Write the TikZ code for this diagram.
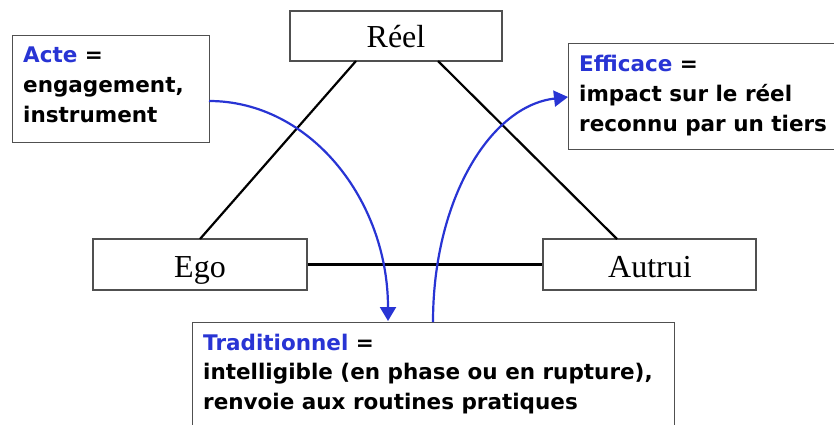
\documentclass[tikz,border=0pt]{standalone}
\usepackage{fontspec}
\setmainfont{Liberation Serif}
\newfontfamily\labelfont{DejaVu Sans}
\usetikzlibrary{arrows.meta}
\definecolor{termblue}{RGB}{40,52,212}
\definecolor{boxgray}{RGB}{80,80,80}
\tikzset{
  x=1pt, y=-1pt,
  pole/.style={draw=boxgray, line width=1.3pt, fill=white, inner sep=0pt},
  polename/.style={anchor=base, inner sep=0pt, font=\fontsize{32}{36}\selectfont},
  notebox/.style={draw=boxgray, line width=1.3pt, fill=white, inner sep=0pt},
  % anchored at the baseline of the last line
  notetext/.style={anchor=base west, align=left, inner sep=0pt,
    font=\labelfont\bfseries\fontsize{21.5}{29.5}\selectfont},
  link/.style={line width=2.2pt, black},
  flow/.style={line width=2.2pt, termblue, -{Triangle[length=14pt,width=16pt]}},
}
\newcommand{\term}[1]{\textcolor{termblue}{#1}}
\begin{document}
\begin{tikzpicture}
\useasboundingbox (0,0) rectangle (834,425);
\clip (0,0) rectangle (834,425);
\fill[white] (0,0) rectangle (834,425);

% the three poles of the triangle
\node[pole, minimum width=212pt, minimum height=50pt] (reel) at (396,36) {};
\node[polename] (reelT) at (396,48) {Réel};
\node[pole, minimum width=214pt, minimum height=51pt] (ego) at (200,264.5) {};
\node[polename] (egoT) at (200,277) {Ego};
\node[pole, minimum width=213pt, minimum height=51pt] (autrui) at (649.5,264.5) {};
\node[polename] (autruiT) at (650,277) {Autrui};

% triangle sides
\coordinate (r1) at (356,61);
\coordinate (r2) at (438,61);
\coordinate (e1) at (200,239);
\coordinate (a1) at (617,239);
\draw[link] (r1) -- (e1);
\draw[link] (r2) -- (a1);
\draw[link] (ego.east) -- (autrui.west);

% note boxes
\node[notebox, minimum width=197pt, minimum height=107pt, anchor=north west] (acte) at (12,35) {};
\node[notetext] (acteT) at (23,122) {\term{Acte} =\\engagement,\\instrument};

\node[notebox, minimum width=272pt, minimum height=106pt, anchor=north west] (eff) at (568,43) {};
\node[notetext] (effT) at (579,131) {\term{Efficace} =\\impact sur le réel\\reconnu par un tiers};

\node[notebox, minimum width=482pt, minimum height=120pt, anchor=north west] (trad) at (192,322) {};
\node[notetext] (tradT) at (203,409) {\term{Traditionnel} =\\intelligible (en phase ou en rupture),\\renvoie aux routines pratiques};

% curved arrows between the notes
\coordinate (acteOut) at (209,101);
\coordinate (tradIn) at (388,321);
\coordinate (tradOut) at (433,322);
\coordinate (effIn) at (568,97);
\draw[flow] (acteOut) .. controls (310,101) and (388,200) .. (tradIn);
\draw[flow] (tradOut) .. controls (433,200) and (490,106) .. (effIn);
\end{tikzpicture}
\end{document}
